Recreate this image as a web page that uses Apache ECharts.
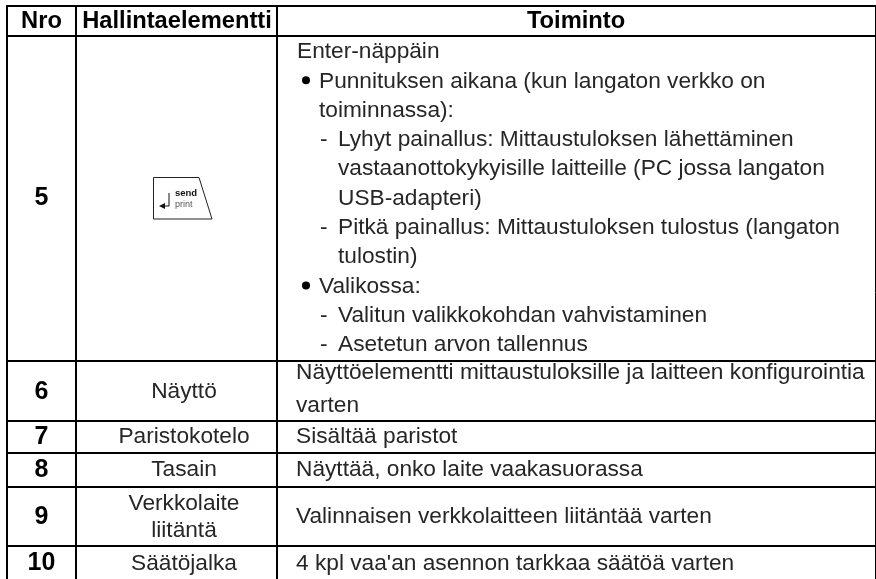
<!DOCTYPE html>
<html><head><meta charset="utf-8">
<style>html,body{margin:0;padding:0;background:#fff}#c{width:876px;height:579px}</style>
<script src="https://cdn.jsdelivr.net/npm/echarts@6/dist/echarts.min.js"></script>
</head><body><div id="c"></div>
<script>
const headers = ['Nro','Hallintaelementti','Toiminto'];
const numbers = ['5','6','7','8','9','10'];
const controls = [[],['Näyttö'],['Paristokotelo'],['Tasain'],['Verkkolaite','liitäntä'],['Säätöjalka']];
const functionsRow5 = [
 ['Enter-näppäin',0],
 ['• ',1],
 ['toiminnassa):',2],
 ['-',3],
 ['vastaanottokykyisille laitteille (PC jossa langaton',4],
 ['USB-adapteri)',4],
 ['-',3],
 ['tulostin)',4],
 ['•',1],
 ['-',3],
 ['-',3]
];
const row5Rest = {
 1:'Punnituksen aikana (kun langaton verkko on',
 3:'Lyhyt painallus: Mittaustuloksen lähettäminen',
 6:'Pitkä painallus: Mittaustuloksen tulostus (langaton',
 8:'Valikossa:',
 9:'Valitun valikkokohdan vahvistaminen',
 10:'Asetetun arvon tallennus'
};
const functionsOther = [
 ['Näyttöelementti mittaustuloksille ja laitteen konfigurointia','varten'],
 ['Sisältää paristot'],
 ['Näyttää, onko laite vaakasuorassa'],
 ['Valinnaisen verkkolaitteen liitäntää varten'],
 ['4 kpl vaa\'an asennon tarkkaa säätöä varten']
];
const keyLabels = ['send','print'];

// layout
const colX = [7,76,277];
const rightX = 875;
const rowY = [6,36,361,421,453,487,546];
const rowMid = [198,392,437,470,517,563.5];
const FS = 22.7, LH = 29.3, FF = '"Liberation Sans", Helvetica, Arial, sans-serif', TC = '#262626';
const indent = {0:297,1:303,2:319,3:320,4:338};
const g = [];
function line(x1,y1,x2,y2,w){g.push({type:'line',shape:{x1,y1,x2,y2},style:{stroke:'#000',lineWidth:w===undefined?2:w}});}
function txt(t,x,y,o){g.push({type:'text',x,y,style:Object.assign({text:t,font:FS+'px '+FF,fill:TC,verticalAlign:'middle',align:'left'},o||{})});}
colX.forEach(x=>line(x,6,x,579));
line(rightX+0.5,6,rightX+0.5,579,1);
rowY.forEach(y=>line(6,y,876,y));
const hc=[41.5,177,576];
headers.forEach((h,i)=>txt(h,hc[i],21.5,{align:'center',font:'bold 23.7px '+FF,fill:'#000'}));
numbers.forEach((n,i)=>txt(n,hc[0],rowMid[i],{align:'center',font:'bold 25px '+FF,fill:'#000'}));
controls.forEach((c,i)=>{
  c.forEach((t,j)=>txt(t,184,rowMid[i]+(j-(c.length-1)/2)*27,{align:'center'}));
});
functionsRow5.forEach((r,i)=>{
  const y=52+i*LH;
  if(r[1]===1){g.push({type:'circle',shape:{cx:306,cy:y-1,r:4},style:{fill:'#000'}});}
  else txt(r[0],indent[r[1]],y);
  if(row5Rest[i]) txt(row5Rest[i],r[1]===1?319:338,y);
});
functionsOther.forEach((c,i)=>{
  const mid=rowMid[i+1];
  c.forEach((t,j)=>txt(t,296,c.length>1?[373,406][j]:mid));
});
// key icon
g.push({type:'polygon',shape:{points:[[153.5,177.5],[199,177.5],[212,219],[153.5,219]]},style:{fill:'#fff',stroke:'#222',lineWidth:1}});
g.push({type:'polyline',shape:{points:[[169,193],[169,206],[162,206]]},style:{fill:'none',stroke:'#111',lineWidth:1}});
g.push({type:'polygon',shape:{points:[[159,206],[165,203],[165,209]]},style:{fill:'#111'}});
txt(keyLabels[0],175,193,{font:'bold 9.5px '+FF,fill:'#111'});
txt(keyLabels[1],175,205,{font:'9px '+FF,fill:'#555'});
const chart=echarts.init(document.getElementById('c'),null,{renderer:'canvas'});
chart.setOption({animation:false,backgroundColor:'#fff',graphic:{elements:g}});
</script></body></html>
